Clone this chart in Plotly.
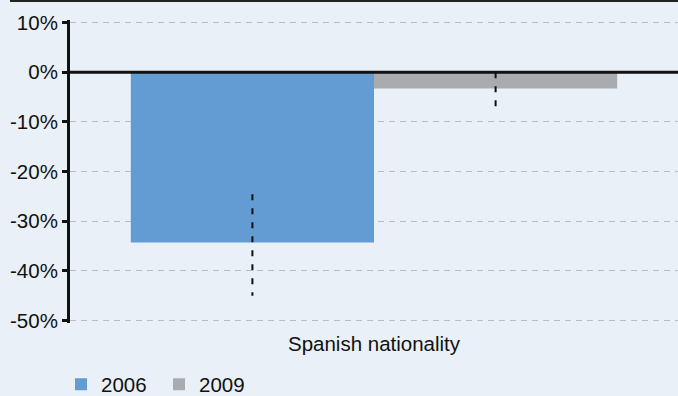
import plotly.graph_objects as go

categories = ["Spanish nationality"]
years = ["2006", "2009"]
values = [[-34.3], [-3.3]]
err_high = [[-24.6], [0.0]]
err_low = [[-45.0], [-7.8]]
colors = ["#629CD2", "#A9ABAE"]
bar_pos = [-0.2, 0.2]
tick_vals = [10, 0, -10, -20, -30, -40, -50]
tick_text = ["10%", "0%", "-10%", "-20%", "-30%", "-40%", "-50%"]

font = dict(family="Liberation Sans, Arial, sans-serif", size=20.5, color="#111111")

fig = go.Figure()
for i, year in enumerate(years):
    fig.add_trace(
        go.Bar(
            x=categories,
            y=values[i],
            name=year,
            marker=dict(color=colors[i], line=dict(width=0)),
        )
    )

# dashed "error bars" drawn on an overlaid numeric axis
for i, year in enumerate(years):
    fig.add_trace(
        go.Scatter(
            x=[bar_pos[i], bar_pos[i]],
            y=[err_high[i][0], err_low[i][0]],
            mode="lines",
            line=dict(color="#111111", width=2, dash="6px,8px"),
            xaxis="x2",
            showlegend=False,
            hoverinfo="skip",
        )
    )

fig.update_layout(
    width=678,
    height=396,
    margin=dict(l=70, r=0, t=20, b=73, autoexpand=False),
    paper_bgcolor="#E9F0F7",
    plot_bgcolor="#E9F0F7",
    font=font,
    barmode="group",
    bargap=0.2,
    bargroupgap=0,
    showlegend=True,
    legend=dict(
        orientation="h",
        x=-9 / 608,
        y=-0.203,
        xanchor="left",
        yanchor="middle",
        entrywidth=53,
        font=font,
        bgcolor="rgba(0,0,0,0)",
    ),
    xaxis=dict(
        showgrid=False,
        showline=False,
        ticks="",
        zeroline=False,
        tickfont=font,
        ticklabelstandoff=6,
    ),
    xaxis2=dict(
        overlaying="x",
        range=[-0.5, 0.5],
        visible=False,
    ),
    yaxis=dict(
        range=[-50.5, 10.5],
        tickvals=tick_vals,
        ticktext=tick_text,
        showgrid=True,
        gridcolor="#B9BDC2",
        griddash="6px,5px",
        gridwidth=1.2,
        zeroline=False,
        showline=True,
        linecolor="#111111",
        linewidth=3,
        ticks="outside",
        ticklen=5,
        tickwidth=3,
        tickcolor="#111111",
        tickfont=font,
    ),
    shapes=[
        dict(
            type="line",
            xref="paper",
            yref="y",
            x0=0,
            x1=1,
            y0=0,
            y1=0,
            line=dict(color="#111111", width=3),
            layer="above",
        ),
        dict(
            type="line",
            xref="paper",
            yref="paper",
            x0=-60 / 608,
            x1=1,
            y0=1 + 19 / 303,
            y1=1 + 19 / 303,
            line=dict(color="#222222", width=2),
        ),
    ],
)

fig.write_html(
    "out.html",
    config={"displayModeBar": False},
    post_script="document.body.style.margin='0';",
)
